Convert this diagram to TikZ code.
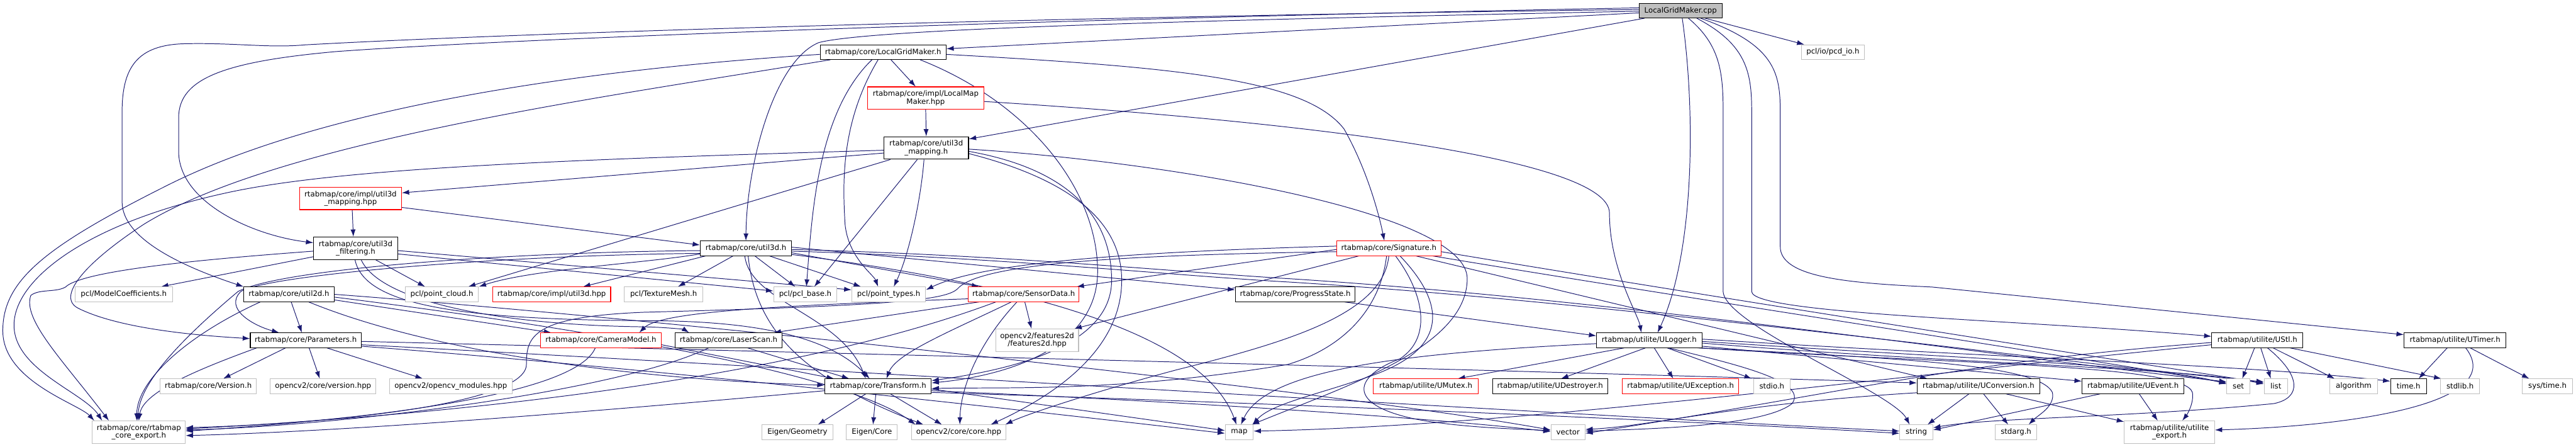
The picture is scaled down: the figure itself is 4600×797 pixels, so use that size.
\documentclass[tikz,border=0pt]{standalone}
\usepackage{fontspec}
\newfontfamily\dv{DejaVu Sans}
\usetikzlibrary{arrows.meta,calc}
\definecolor{edgeblue}{HTML}{191970}
\definecolor{extgray}{HTML}{BFBFBF}
\definecolor{redborder}{HTML}{FF0000}
\pgfdeclarelayer{edgelayer}
\pgfsetlayers{edgelayer,main}
\begin{document}
\begin{tikzpicture}[x=0.5pt,y=-0.5pt,
  nd/.style={rectangle, inner sep=0pt, minimum height=13pt, align=center, line width=0.6pt, fill=white,
    font=\dv\fontsize{6.6pt}{7pt}\selectfont},
  nblk/.style={nd, draw=black},
  nred/.style={nd, draw=redborder},
  next/.style={nd, draw=extgray},
  ncur/.style={nd, draw=black, fill=extgray},
  tall/.style={minimum height=20pt},
  ed/.style={draw=edgeblue, line width=0.55pt, -{Latex[length=6.5pt,width=4.5pt]}}]
\useasboundingbox (0,0) rectangle (4600,797);
% ---------- nodes ----------
\node[ncur, minimum width=74pt] (C) at (3001,19) {LocalGridMaker.cpp};
\node[nblk, minimum width=112.5pt] (LGMh) at (1577,93) {rtabmap/core/LocalGridMaker.h};
\node[next, minimum width=56.5pt] (pcd) at (3273,93) {pcl/io/pcd\_io.h};
\node[nred, tall, minimum width=103.5pt] (LMM) at (1653,175) {rtabmap/core/impl/LocalMap\\Maker.hpp};
\node[nblk, tall, minimum width=75.5pt] (map3) at (1654,264) {rtabmap/core/util3d\\\_mapping.h};
\node[nred, tall, minimum width=91pt] (mhpp) at (626,354) {rtabmap/core/impl/util3d\\\_mapping.hpp};
\node[nblk, tall, minimum width=75pt] (filt) at (635,443) {rtabmap/core/util3d\\\_filtering.h};
\node[nblk, minimum width=81.5pt] (u3d) at (1332,443) {rtabmap/core/util3d.h};
\node[nred, minimum width=93pt] (sig) at (2480,443) {rtabmap/core/Signature.h};
\node[next, minimum width=87pt] (mc) at (221,525) {pcl/ModelCoefficients.h};
\node[nblk, minimum width=80.5pt] (u2d) at (516,525) {rtabmap/core/util2d.h};
\node[next, minimum width=65.5pt] (pc) at (789,525) {pcl/point\_cloud.h};
\node[nred, minimum width=105.5pt] (u3hpp) at (985,525) {rtabmap/core/impl/util3d.hpp};
\node[next, minimum width=70pt] (tm) at (1185,525) {pcl/TextureMesh.h};
\node[next, minimum width=56.5pt] (pb) at (1438,525) {pcl/pcl\_base.h};
\node[next, minimum width=66pt] (pt) at (1587,525) {pcl/point\_types.h};
\node[nred, minimum width=99pt] (sd) at (1828,525) {rtabmap/core/SensorData.h};
\node[nblk, minimum width=107pt] (ps) at (2313,525) {rtabmap/core/ProgressState.h};
\node[nblk, minimum width=99pt] (par) at (546,607) {rtabmap/core/Parameters.h};
\node[nred, minimum width=108pt] (cam) at (1073,607) {rtabmap/core/CameraModel.h};
\node[nblk, minimum width=95pt] (ls) at (1301,607) {rtabmap/core/LaserScan.h};
\node[next, tall, minimum width=74pt] (f2d) at (1852,607) {opencv2/features2d\\/features2d.hpp};
\node[nblk, minimum width=94pt] (ulog) at (2945,607) {rtabmap/utilite/ULogger.h};
\node[nblk, minimum width=81.5pt] (ustl) at (4031,607) {rtabmap/utilite/UStl.h};
\node[nblk, minimum width=91pt] (utim) at (4384,607) {rtabmap/utilite/UTimer.h};
\node[next, minimum width=86pt] (ver) at (372,689) {rtabmap/core/Version.h};
\node[next, minimum width=94.5pt] (cvv) at (577,689) {opencv2/core/version.hpp};
\node[next, minimum width=109.5pt] (cvm) at (805,689) {opencv2/opencv\_modules.hpp};
\node[nblk, minimum width=95pt] (tf) at (1568,689) {rtabmap/core/Transform.h};
\node[nred, minimum width=93.5pt] (umx) at (2546,689) {rtabmap/utilite/UMutex.h};
\node[nblk, minimum width=103pt] (ud) at (2768,689) {rtabmap/utilite/UDestroyer.h};
\node[nred, minimum width=104pt] (uex) at (3001,689) {rtabmap/utilite/UException.h};
\node[next, minimum width=32.5pt] (stdio) at (3164,689) {stdio.h};
\node[nblk, minimum width=109.5pt] (uconv) at (3533,689) {rtabmap/utilite/UConversion.h};
\node[nblk, minimum width=91pt] (uev) at (3809,689) {rtabmap/utilite/UEvent.h};
\node[next, minimum width=20.5pt] (set) at (3997,689) {set};
\node[next, minimum width=21pt] (list) at (4064,689) {list};
\node[next, minimum width=42.5pt] (alg) at (4203,689) {algorithm};
\node[nblk, minimum width=32pt] (timeh) at (4301,689) {time.h};
\node[next, minimum width=35pt] (stdlib) at (4393,689) {stdlib.h};
\node[next, minimum width=45pt] (systime) at (4549,689) {sys/time.h};
\node[next, tall, minimum width=83pt] (exp) at (248,771) {rtabmap/core/rtabmap\\\_core\_export.h};
\node[next, minimum width=63pt] (eg) at (1424,771) {Eigen/Geometry};
\node[next, minimum width=45.5pt] (ec) at (1557,771) {Eigen/Core};
\node[next, minimum width=84.5pt] (core) at (1712,771) {opencv2/core/core.hpp};
\node[next, minimum width=25pt] (mapn) at (2213,771) {map};
\node[next, minimum width=30.5pt] (vec) at (2800,771) {vector};
\node[next, minimum width=29.5pt] (str) at (3422,771) {string};
\node[next, minimum width=37pt] (stdarg) at (3600,771) {stdarg.h};
\node[next, tall, minimum width=80.5pt] (uexp) at (3874,771) {rtabmap/utilite/utilite\\\_export.h};
\begin{pgfonlayer}{edgelayer}
\fill[white] (0,0) rectangle (4600,797);
% ---------- edges: LocalGridMaker.cpp ----------
\draw[ed] ($(C.west)+(0,4)$) -- ($(LGMh.east)+(0,-6)$);
\draw[ed] ($(C.west)+(0,1)$) .. controls (2200,35) and (1560,50) .. (1462,76) .. controls (1380,110) and (1333,300) .. (u3d.north);
\draw[ed] ($(C.west)+(0,-2)$) .. controls (2000,28) and (1000,55) .. (545,80) .. controls (480,86) and (420,76) .. (330,78) .. controls (245,80) and (218,120) .. (218,200) -- (218,360) .. controls (218,430) and (340,480) .. (u2d.north west);
\draw[ed] ($(C.west)+(0,-5)$) .. controls (1800,35) and (900,70) .. (600,92) .. controls (400,110) and (319,140) .. (319,210) -- (319,270) .. controls (319,360) and (450,420) .. ($(filt.west)+(0,-10)$);
\draw[ed] ($(C.south west)+(10,0)$) -- ($(map3.east)+(0,-16)$);
\draw[ed] ($(C.south)+(3,0)$) .. controls (3028,200) and (3026,450) .. ($(ulog.north)+(15,0)$);
\draw[ed] ($(C.south)+(14,0)$) .. controls (3072,80) and (3077,130) .. (3077,200) -- (3077,520) .. controls (3080,580) and (3380,700) .. ($(str.north)+(-12,0)$);
\draw[ed] ($(C.south)+(29,0)$) .. controls (3120,80) and (3128,130) .. (3128,200) -- (3128,520) .. controls (3128,560) and (3600,570) .. ($(ustl.west)+(0,-7)$);
\draw[ed] ($(C.south)+(36,0)$) .. controls (3170,80) and (3179,130) .. (3179,200) -- (3179,440) .. controls (3179,495) and (3300,505) .. (3450,512) -- ($(utim.west)+(0,-10)$);
\draw[ed] ($(C.south)+(44,0)$) -- ($(pcd.north west)+(6,0)$);
% ---------- LocalGridMaker.h ----------
\draw[ed] ($(LGMh.west)+(0,4)$) .. controls (1100,120) and (600,180) .. (300,330) .. controls (80,440) and (5,500) .. (5,590) .. controls (5,680) and (140,720) .. ($(exp.north west)+(4,0)$);
\draw[ed] ($(LGMh.south west)+(19,0)$) .. controls (1100,170) and (500,250) .. (257,400) .. controls (150,470) and (100,530) .. (140,550) .. controls (220,590) and (380,600) .. ($(par.west)+(0,-3)$);
\draw[ed] ($(LGMh.south)+(-20,0)$) .. controls (1460,200) and (1450,380) .. ($(pb.north)+(2,0)$);
\draw[ed] ($(LGMh.south)+(-9,0)$) .. controls (1500,220) and (1505,330) .. (1509,400) .. controls (1515,460) and (1560,490) .. ($(pt.north)+(-19,0)$);
\draw[ed] ($(LGMh.south)+(14,0)$) -- ($(LMM.north)+(-18,0)$);
\draw[ed] ($(LGMh.south)+(66,0)$) .. controls (1830,180) and (1957,330) .. (1960,480) .. controls (1963,620) and (1800,670) .. ($(tf.east)+(0,-6)$);
\draw[ed] ($(LGMh.east)+(0,4)$) .. controls (2100,120) and (2330,140) .. (2400,230) .. controls (2440,300) and (2462,380) .. ($(sig.north)+(-8,0)$);
% ---------- LocalMapMaker.hpp ----------
\draw[ed] (LMM.south) -- (map3.north);
\draw[ed] ($(LMM.east)+(0,6)$) .. controls (2300,215) and (2874,280) .. (2874,380) .. controls (2874,480) and (2925,560) .. ($(ulog.north)+(-14,0)$);
% ---------- util3d_mapping.h ----------
\draw[ed] ($(map3.west)+(0,4)$) .. controls (1000,285) and (600,300) .. (400,345) .. controls (150,400) and (25,500) .. (25,580) .. controls (25,660) and (150,700) .. ($(exp.north west)+(18,0)$);
\draw[ed] ($(map3.west)+(0,9)$) -- ($(mhpp.east)+(0,-10)$);
\draw[ed] ($(map3.south west)+(12,0)$) -- ($(pc.north east)+(-19,0)$);
\draw[ed] ($(map3.south)+(-16,0)$) -- ($(pb.north)+(16,0)$);
\draw[ed] ($(map3.south)+(-4,0)$) .. controls (1645,350) and (1625,450) .. ($(pt.north)+(9,0)$);
\draw[ed] ($(map3.east)+(0,6)$) .. controls (1900,300) and (1985,380) .. (1985,500) .. controls (1985,620) and (1800,660) .. ($(tf.east)+(0,-10)$);
\draw[ed] ($(map3.east)+(0,10)$) .. controls (1950,330) and (2003,420) .. (2003,500) .. controls (2003,640) and (1850,720) .. ($(core.north east)+(-28,0)$);
\draw[ed] ($(map3.east)+(0,2)$) .. controls (2100,290) and (2620,380) .. (2620,497) .. controls (2620,620) and (2400,690) .. ($(mapn.north east)+(-3,0)$);
% ---------- impl/util3d_mapping.hpp ----------
\draw[ed] ($(mhpp.south)+(3,0)$) -- ($(filt.north)+(-4,0)$);
\draw[ed] ($(mhpp.east)+(0,16)$) -- ($(u3d.west)+(0,-6)$);
% ---------- util3d_filtering.h ----------
\draw[ed] ($(filt.west)+(0,5)$) .. controls (400,460) and (150,480) .. (117,512) .. controls (100,522) and (70,515) .. (55,527) .. controls (40,570) and (110,640) .. ($(exp.north west)+(30,0)$);
\draw[ed] ($(filt.west)+(0,15)$) -- ($(mc.north east)+(-21,0)$);
\draw[ed] ($(filt.east)+(0,4)$) -- ($(pt.west)+(0,-8)$);
\draw[ed] ($(filt.east)+(0,10)$) -- ($(pb.west)+(0,-6)$);
\draw[ed] ($(filt.south)+(36,0)$) -- ($(pc.north)+(-30,0)$);
\draw[ed] ($(filt.south)+(-1,0)$) .. controls (650,540) and (800,570) .. (1150,572) .. controls (1350,572) and (1480,600) .. ($(tf.north)+(-15,0)$);
\draw[ed] ($(filt.south)+(10,0)$) .. controls (680,540) and (900,580) .. (1150,583) .. controls (1195,584) and (1222,588) .. ($(ls.north west)+(25,0)$);
% ---------- util3d.h ----------
\draw[ed] ($(u3d.west)+(0,4)$) .. controls (900,450) and (500,480) .. (425,520) .. controls (330,600) and (250,680) .. ($(exp.north)+(-2,0)$);
\draw[ed] ($(u3d.west)+(0,9)$) .. controls (900,455) and (480,490) .. (430,520) .. controls (400,550) and (450,580) .. ($(par.north west)+(52,0)$);
\draw[ed] ($(u3d.south)+(-23,0)$) -- ($(tm.north east)+(-45,0)$);
\draw[ed] ($(u3d.south)+(16,0)$) -- ($(pb.north)+(-18,0)$);
\draw[ed] ($(u3d.south east)+(-40,0)$) -- ($(pt.north west)+(17,0)$);
\draw[ed] ($(u3d.west)+(0,10)$) .. controls (1150,470) and (950,480) .. (pc.north east);
\draw[ed] ($(u3d.south west)+(10,0)$) -- ($(u3hpp.north east)+(-50,0)$);
\draw[ed] ($(u3d.east)+(0,8)$) -- ($(sd.north west)+(20,0)$);
\draw[ed] ($(u3d.east)+(0,-2)$) -- ($(ps.west)+(0,-8)$);
\draw[ed] ($(u3d.south)+(-2,0)$) .. controls (1340,540) and (1500,560) .. ($(tf.north)+(-22,0)$);
\draw[ed] ($(u3d.south)+(4,0)$) .. controls (1350,600) and (1450,680) .. ($(core.north west)+(22,0)$);
\draw[ed] ($(u3d.east)+(0,11)$) .. controls (1850,510) and (2150,600) .. ($(mapn.north)+(-5,0)$);
\draw[ed] ($(u3d.east)+(0,2)$) .. controls (1800,455) and (2100,485) .. (2300,497) .. controls (2900,535) and (3600,640) .. ($(set.west)+(0,-8)$);
\draw[ed] ($(u3d.east)+(0,5)$) .. controls (1800,460) and (2100,492) .. (2300,503) .. controls (2900,540) and (3700,650) .. ($(list.west)+(0,-8)$);
% ---------- util2d.h ----------
\draw[ed] ($(u2d.south west)+(30,0)$) .. controls (330,600) and (245,680) .. ($(exp.north)+(-4,0)$);
\draw[ed] ($(u2d.south)+(4,0)$) -- ($(par.north)+(-7,0)$);
\draw[ed] ($(u2d.east)+(0,10)$) -- ($(cam.north west)+(20,0)$);
\draw[ed] ($(u2d.south east)+(-46,0)$) .. controls (800,640) and (1200,680) .. ($(tf.west)+(0,-2)$);
\draw[ed] ($(u2d.east)+(0,5)$) .. controls (1000,580) and (1500,660) .. ($(core.north west)+(8,0)$);
\draw[ed] (u2d.east) .. controls (1200,570) and (2400,700) .. ($(vec.west)+(0,-4)$);
% ---------- Parameters.h ----------
\draw[ed] ($(par.south west)+(12,0)$) .. controls (350,660) and (255,700) .. (exp.north);
\draw[ed] ($(par.south)+(-36,0)$) -- ($(ver.north east)+(-60,0)$);
\draw[ed] ($(par.south)+(6,0)$) -- ($(cvv.north)+(-6,0)$);
\draw[ed] ($(par.south east)+(-62,0)$) -- ($(cvm.north west)+(60,0)$);
\draw[ed] ($(par.east)+(0,2)$) .. controls (1500,630) and (2500,655) .. ($(uconv.west)+(0,-6)$);
\draw[ed] ($(par.east)+(0,8)$) .. controls (1500,660) and (2800,740) .. ($(str.west)+(0,-2)$);
\draw[ed] ($(par.south east)+(0,-3)$) .. controls (1200,660) and (1900,740) .. ($(mapn.west)+(0,2)$);
% ---------- CameraModel.h / LaserScan.h ----------
\draw[ed] ($(cam.south)+(-10,0)$) .. controls (1030,700) and (700,745) .. ($(exp.east)+(0,-2)$);
\draw[ed] ($(cam.east)+(0,8)$) -- ($(tf.north west)+(17,0)$);
\draw[ed] ($(ls.south west)+(60,0)$) .. controls (1100,700) and (600,760) .. ($(exp.east)+(0,-4)$);
\draw[ed] ($(ls.south)+(34,0)$) -- ($(tf.north west)+(44,0)$);
% ---------- SensorData.h ----------
\draw[ed] ($(sd.west)+(0,8)$) .. controls (1400,545) and (1180,555) .. ($(cam.north east)+(-40,0)$);
\draw[ed] ($(sd.south west)+(20,0)$) -- ($(ls.north east)+(-15,0)$);
\draw[ed] ($(sd.south west)+(50,0)$) .. controls (1400,680) and (800,740) .. ($(exp.east)+(0,-6)$);
\draw[ed] ($(sd.south)+(-22,0)$) .. controls (1700,590) and (1600,630) .. ($(tf.north)+(15,0)$);
\draw[ed] ($(sd.south)+(2,0)$) -- ($(f2d.north)+(-10,0)$);
\draw[ed] ($(sd.south)+(-12,0)$) .. controls (1740,620) and (1715,700) .. ($(core.north)+(2,0)$);
% ---------- Signature.h ----------
\draw[ed] ($(sig.west)+(0,-4)$) .. controls (2000,450) and (1750,470) .. ($(pt.east)+(0,-8)$);
\draw[ed] ($(sig.west)+(0,2)$) -- ($(sd.north east)+(-5,0)$);
\draw[ed] ($(sig.south west)+(40,0)$) -- ($(f2d.north east)+(-8,0)$);
\draw[ed] ($(sig.west)+(0,6)$) .. controls (2000,455) and (1750,470) .. (1710,515) .. controls (1690,535) and (1600,545) .. (1150,557) .. controls (950,565) and (940,600) .. (940,650) .. controls (940,720) and (600,755) .. ($(exp.east)+(0,-8)$);
\draw[ed] ($(sig.south)+(-4,0)$) .. controls (2465,550) and (2400,620) .. (2300,650) .. controls (2000,700) and (1800,690) .. ($(tf.east)+(0,4)$);
\draw[ed] (sig.south) .. controls (2470,560) and (2300,610) .. (2100,660) .. controls (1950,700) and (1830,740) .. ($(core.north east)+(-2,0)$);
\draw[ed] ($(sig.south)+(12,0)$) .. controls (2540,520) and (2560,600) .. (2500,640) .. controls (2420,670) and (2400,720) .. (2525,747) .. controls (2600,762) and (2700,765) .. ($(vec.west)+(0,-3)$);
\draw[ed] ($(sig.south)+(20,0)$) .. controls (2580,540) and (2590,620) .. (2450,670) .. controls (2350,705) and (2270,720) .. ($(mapn.north east)+(-2,0)$);
\draw[ed] ($(sig.south east)+(-45,0)$) -- ($(uconv.north west)+(19,0)$);
\draw[ed] ($(sig.south east)+(-15,0)$) .. controls (3000,530) and (3600,620) .. ($(set.west)+(0,-6)$);
\draw[ed] ($(sig.east)+(0,6)$) .. controls (3000,520) and (3700,630) .. ($(list.west)+(0,-6)$);
% ---------- ULogger.h ----------
\draw[ed] ($(ulog.south west)+(50,0)$) -- ($(umx.north east)+(-37,0)$);
\draw[ed] ($(ulog.south west)+(88,0)$) -- ($(ud.north east)+(-84,0)$);
\draw[ed] ($(ulog.south)+(9,0)$) -- ($(uex.north)+(-13,0)$);
\draw[ed] ($(ulog.south)+(32,0)$) -- ($(stdio.north west)+(-3,0)$);
\draw[ed] ($(ulog.south east)+(-60,0)$) .. controls (3100,650) and (3230,680) .. (3200,720) .. controls (3150,760) and (2950,765) .. ($(vec.east)+(0,-2)$);
\draw[ed] ($(ulog.west)+(0,6)$) .. controls (2500,630) and (2260,660) .. ($(mapn.north)+(3,0)$);
\draw[ed] ($(ulog.south east)+(0,-3)$) -- ($(uev.west)+(0,-9)$);
\draw[ed] ($(ulog.east)+(0,-2)$) .. controls (3600,640) and (4000,650) .. ($(timeh.west)+(0,-9)$);
\draw[ed] ($(ulog.east)+(0,2)$) .. controls (3500,640) and (3850,650) .. ($(set.west)+(0,-4)$);
\draw[ed] ($(ulog.east)+(0,5)$) .. controls (3500,650) and (3900,655) .. ($(list.west)+(0,-4)$);
\draw[ed] ($(ulog.south east)+(-4,0)$) .. controls (3400,640) and (3640,650) .. (3665,700) .. controls (3670,725) and (3640,740) .. ($(stdarg.north east)+(-15,0)$);
\draw[ed] ($(ulog.south east)+(-8,0)$) .. controls (3500,650) and (3900,650) .. (3915,700) .. controls (3918,720) and (3905,740) .. ($(uexp.north)+(23,0)$);
% ---------- ProgressState.h ----------
\draw[ed] ($(ps.south east)+(-20,0)$) -- ($(ulog.west)+(0,-8)$);
% ---------- UConversion.h / UEvent.h ----------
\draw[ed] ($(uconv.south)+(-17,0)$) -- ($(str.north)+(20,0)$);
\draw[ed] ($(uconv.south)+(9,0)$) -- ($(stdarg.north)+(-14,0)$);
\draw[ed] ($(uconv.south)+(49,0)$) -- ($(uexp.north west)+(0,2)$);
\draw[ed] ($(uconv.south west)+(0,-2)$) .. controls (3100,720) and (2950,760) .. ($(vec.east)+(0,-5)$);
\draw[ed] ($(uev.south west)+(33,0)$) -- ($(str.east)+(0,-4)$);
\draw[ed] ($(uev.south)+(11,0)$) -- ($(uexp.north)+(-21,0)$);
% ---------- UStl.h ----------
\draw[ed] ($(ustl.south)+(-5,0)$) -- ($(set.north)+(7,0)$);
\draw[ed] ($(ustl.south)+(6,0)$) -- ($(list.north)+(-9,0)$);
\draw[ed] ($(ustl.south)+(28,0)$) -- ($(alg.north west)+(9,0)$);
\draw[ed] ($(ustl.south east)+(-24,0)$) -- ($(stdlib.north west)+(2,0)$);
\draw[ed] ($(ustl.south)+(18,0)$) .. controls (4110,670) and (4110,710) .. (4060,720) .. controls (3800,745) and (3550,745) .. ($(str.east)+(0,-8)$);
\draw[ed] ($(ustl.west)+(0,4)$) .. controls (3500,645) and (3300,700) .. ($(vec.east)+(0,2)$);
\draw[ed] ($(ustl.west)+(0,8)$) .. controls (3300,680) and (2700,760) .. ($(mapn.east)+(0,-2)$);
% ---------- UTimer.h ----------
\draw[ed] ($(utim.south)+(-14,0)$) -- ($(timeh.north)+(18,0)$);
\draw[ed] ($(utim.south)+(27,0)$) -- ($(systime.north west)+(13,0)$);
\draw[ed] ($(utim.south)+(19,0)$) .. controls (4480,720) and (4200,760) .. ($(uexp.east)+(0,-4)$);
% ---------- Transform.h ----------
\draw[ed] ($(tf.west)+(0,8)$) .. controls (1000,740) and (600,770) .. ($(exp.east)+(0,6)$);
\draw[ed] ($(tf.south)+(-22,0)$) -- ($(eg.north east)+(-27,0)$);
\draw[ed] ($(tf.south)+(-4,0)$) -- ($(ec.north)+(2,0)$);
\draw[ed] ($(tf.south)+(22,0)$) -- ($(core.north)+(-30,0)$);
\draw[ed] ($(tf.east)+(0,5)$) -- ($(mapn.west)+(0,-3)$);
\draw[ed] ($(tf.east)+(0,8)$) .. controls (2200,720) and (2600,750) .. ($(vec.west)+(0,-1)$);
\draw[ed] ($(tf.east)+(0,11)$) .. controls (2300,720) and (3000,750) .. ($(str.west)+(0,2)$);
\end{pgfonlayer}
\end{tikzpicture}
\end{document}
